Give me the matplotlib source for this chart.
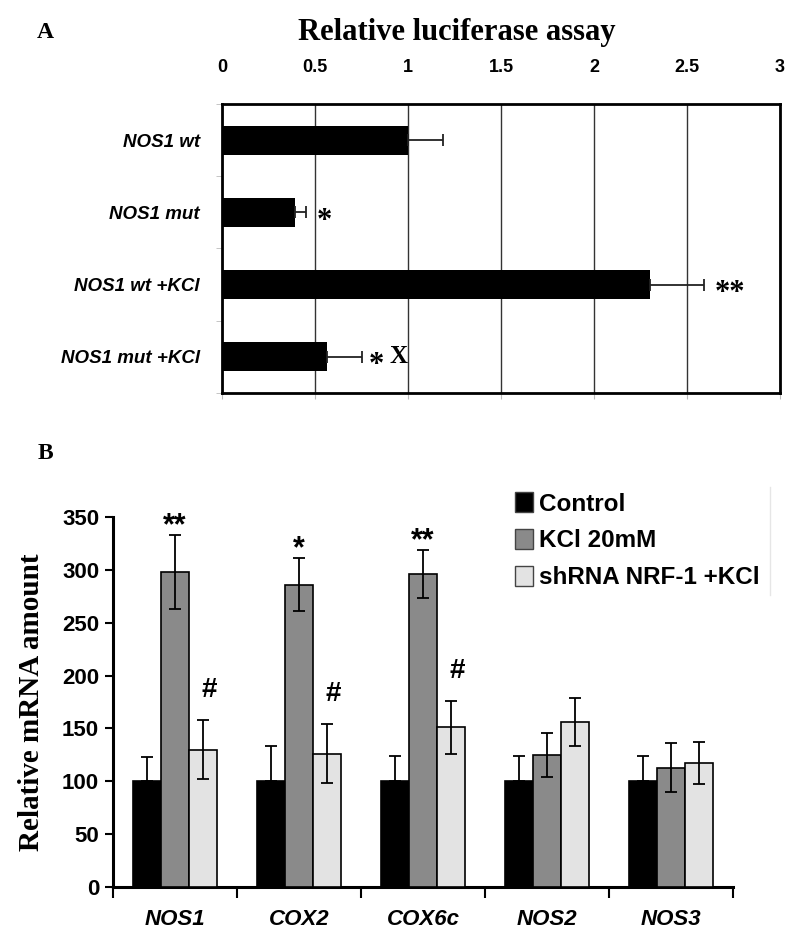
import matplotlib
matplotlib.use("Agg")
import numpy as np
import matplotlib.pyplot as plt
from matplotlib.patches import Patch
from matplotlib.lines import Line2D

# ---------------- panel A data
lucif_labels = ["NOS1 wt", "NOS1 mut", "NOS1 wt +KCl", "NOS1 mut +KCl"]
lucif_vals = [1.0, 0.39, 2.30, 0.565]
lucif_err = [0.19, 0.06, 0.29, 0.185]
lucif_marks = ["", "*", "**", "*X"]
lucif_ticks = [0, 0.5, 1, 1.5, 2, 2.5, 3]

# ---------------- panel B data
genes = ["NOS1", "COX2", "COX6c", "NOS2", "NOS3"]
ctrl_vals = [100, 100, 100, 100, 100]
ctrl_err = [23, 33, 24, 24, 24]
kcl_vals = [298, 286, 296, 125, 113]
kcl_err = [35, 25, 23, 21, 23]
sh_vals = [130, 126, 151, 156, 117]
sh_err = [28, 28, 25, 23, 20]
kcl_stars = ["**", "*", "**", "", ""]
sh_hash = ["#", "#", "#", "", ""]
series_names = ["Control", "KCl 20mM", "shRNA NRF-1 +KCl"]
mrna_ticks = [0, 50, 100, 150, 200, 250, 300, 350]

SANS = ["Liberation Sans Narrow", "Liberation Sans", "DejaVu Sans"]
SERIF = ["Liberation Serif", "DejaVu Serif"]
colors = ["#000000", "#8a8a8a", "#e3e3e3"]


def panel_a(fig):
    ax = fig.add_axes([0.2796, 0.5846, 0.7028, 0.3055])
    y = np.arange(len(lucif_labels))
    ax.barh(y, lucif_vals, height=0.4, color="black", zorder=3)
    # error bars only on the right side
    xerr = [np.zeros(len(lucif_err)), lucif_err]
    ax.errorbar(lucif_vals, y, xerr=xerr, fmt="none", ecolor="#222222",
                elinewidth=1.3, capsize=4, capthick=1.3, zorder=4)
    ax.set_xlim(0, 3)
    ax.set_ylim(3.5, -0.5)
    ax.set_xticks(lucif_ticks)
    ax.set_xticklabels([f"{t:g}" for t in lucif_ticks], family=SANS,
                       fontweight="bold", fontsize=13)
    ax.tick_params(axis="x", bottom=True, top=False, labelbottom=False,
                   labeltop=True, direction="out", length=4, color="#bbbbbb", pad=16)
    ax.set_yticks(y)
    ax.set_yticklabels(lucif_labels, family=SANS, fontweight="bold",
                       style="italic", fontsize=13.5)
    ax.tick_params(axis="y", which="major", length=0, pad=16)
    ax.set_yticks(np.arange(-0.5, len(lucif_labels)), minor=True)
    ax.tick_params(axis="y", which="minor", length=4, color="#bbbbbb", direction="out")
    ax.grid(True, axis="x", color="#333333", linewidth=1.0, zorder=0)
    for s in ax.spines.values():
        s.set_linewidth(2.0)
    for i, m in enumerate(lucif_marks):
        if not m:
            continue
        x0 = lucif_vals[i] + lucif_err[i] + 0.04
        if m == "*X":
            ax.text(x0, y[i] + 0.12, "*", family=SERIF, fontweight="bold",
                    fontsize=22, ha="left", va="center")
            ax.text(x0 + 0.11, y[i], "X", family=SERIF, fontweight="bold",
                    fontsize=18, ha="left", va="center")
        else:
            ax.text(x0 + 0.02, y[i] + 0.12, m, family=SERIF, fontweight="bold",
                    fontsize=22, ha="left", va="center")
    fig.text(0.575, 0.966, "Relative luciferase assay", family=SERIF,
             fontweight="bold", fontsize=22, ha="center", va="center")
    fig.text(0.057, 0.966, "A", family=SERIF, fontweight="bold", fontsize=17,
             ha="center", va="center")


def panel_b(fig):
    ax = fig.add_axes([0.1423, 0.0624, 0.7809, 0.3911])
    x = np.arange(len(genes))
    w = 0.226
    zeros = np.zeros(len(genes))
    data = [(ctrl_vals, [zeros, ctrl_err]), (kcl_vals, kcl_err), (sh_vals, sh_err)]
    for j, (vals, err) in enumerate(data):
        xs = x + (j - 1) * w
        ax.bar(xs, vals, width=w, color=colors[j], edgecolor="black",
               linewidth=1.2, zorder=3)
        ax.errorbar(xs, vals, yerr=err, fmt="none", ecolor="black",
                    elinewidth=1.3, capsize=4.5, capthick=1.3, zorder=4)
    for i in range(len(genes)):
        if kcl_stars[i]:
            ax.text(x[i], kcl_vals[i] + kcl_err[i] - 6, kcl_stars[i],
                    family=SANS, fontweight="bold", fontsize=22,
                    ha="center", va="bottom")
        if sh_hash[i]:
            ax.text(x[i] + w + 0.05, sh_vals[i] + sh_err[i] + 16, sh_hash[i],
                    family=SANS, fontweight="bold", fontsize=20,
                    ha="center", va="bottom")
    ax.set_xlim(-0.5, len(genes) - 0.5)
    ax.set_ylim(0, 350)
    ax.set_yticks(mrna_ticks)
    ax.set_yticklabels([str(t) for t in mrna_ticks], family=SANS,
                       fontweight="bold", fontsize=16)
    ax.tick_params(axis="y", length=6, width=1.5, pad=4)
    ax.set_xticks(x)
    ax.set_xticklabels(genes, family=SANS, fontweight="bold",
                       style="italic", fontsize=16)
    ax.tick_params(axis="x", which="major", length=0, pad=16)
    ax.set_xticks(np.arange(-0.5, len(genes)), minor=True)
    ax.tick_params(axis="x", which="minor", length=8, width=1.5, direction="out")
    for s in ["top", "right"]:
        ax.spines[s].set_visible(False)
    for s in ["left", "bottom"]:
        ax.spines[s].set_linewidth(2.2)
    ax.set_ylabel("Relative mRNA amount", family=SERIF, fontweight="bold",
                  fontsize=21, labelpad=12)

    handles = [Patch(facecolor=c, edgecolor="#444444", linewidth=1.0) for c in colors]
    ax.legend(handles, series_names, loc="upper left",
              bbox_to_anchor=(0.636, 0.490), bbox_transform=fig.transFigure,
              frameon=False, handlelength=0.75, handleheight=0.9,
              handletextpad=0.25, labelspacing=0.55, borderaxespad=0,
              prop={"family": SANS, "weight": "bold", "size": 17.5})
    fig.add_artist(Line2D([0.970, 0.970], [0.371, 0.485], color="#e6e6e6",
                          linewidth=1.0, transform=fig.transFigure))
    fig.text(0.057, 0.521, "B", family=SERIF, fontweight="bold", fontsize=17,
             ha="center", va="center")


if __name__ == "__main__":
    fig = plt.figure(figsize=(7.94, 9.46), dpi=100)
    panel_a(fig)
    panel_b(fig)
    fig.savefig("out.png", dpi=100, facecolor="white")
